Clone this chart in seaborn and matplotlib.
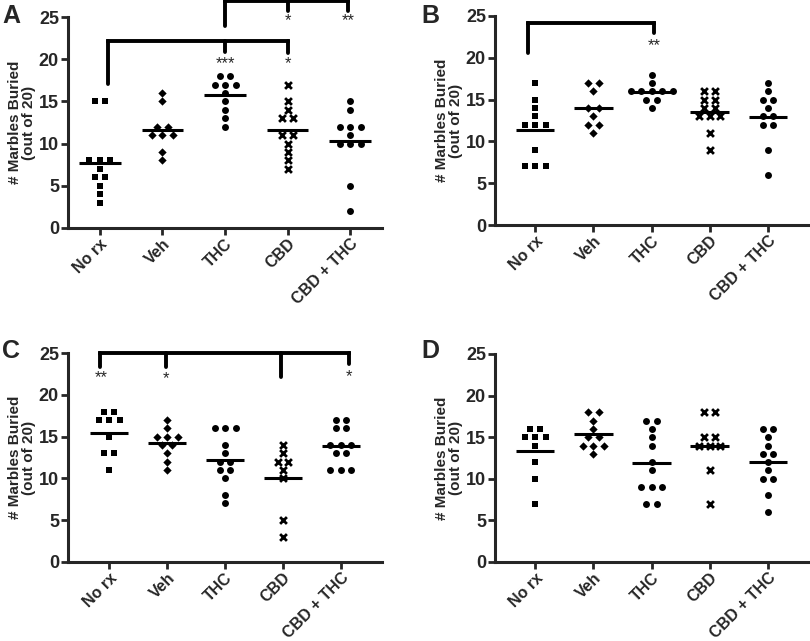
import seaborn as sns
import matplotlib.pyplot as plt
import pandas as pd
import numpy as np

# 组别
groups = ["No rx", "Veh", "THC", "CBD", "CBD + THC"]
markers = ["s", "D", "o", "x", "o"]
msizes = [21, 18, 25, 24, 25]

# 各面板数据（埋珠数，满分20）
A_norx = [15, 15, 8, 8, 8, 7, 6, 6, 5, 4, 3]
A_veh = [16, 15, 12, 12, 11, 11, 11, 9, 8]
A_thc = [18, 18, 17, 17, 17, 16, 15, 14, 13, 12]
A_cbd = [17, 15, 14, 13, 13, 11, 11, 10, 9, 8, 7]
A_combo = [15, 14, 12, 12, 12, 11, 10, 10, 10, 5, 2]

B_norx = [17, 15, 14, 13, 12, 12, 12, 9, 7, 7, 7]
B_veh = [17, 17, 16, 14, 14, 13, 12, 12, 11]
B_thc = [18, 17, 16, 16, 16, 16, 16, 15, 15, 14]
B_cbd = [16, 16, 15, 15, 14, 14, 13, 13, 13, 11, 9]
B_combo = [17, 16, 15, 15, 14, 13, 13, 12, 12, 9, 6]

C_norx = [18, 18, 17, 17, 17, 15, 13, 13, 11]
C_veh = [17, 16, 15, 15, 15, 14, 14, 13, 12, 11]
C_thc = [16, 16, 16, 14, 13, 12, 12, 11, 11, 10, 8, 7]
C_cbd = [14, 13, 12, 12, 11, 10, 5, 3]
C_combo = [17, 17, 16, 16, 14, 14, 14, 13, 13, 11, 11, 11]

D_norx = [16, 16, 15, 15, 15, 14, 12, 10, 7]
D_veh = [18, 18, 17, 16, 15, 15, 14, 14, 14, 13]
D_thc = [17, 17, 16, 15, 14, 12, 11, 9, 9, 9, 7, 7]
D_cbd = [18, 18, 15, 15, 14, 14, 14, 11, 7]
D_combo = [16, 16, 15, 14, 13, 13, 12, 11, 10, 10, 8, 6]

panels = {
    "A": [A_norx, A_veh, A_thc, A_cbd, A_combo],
    "B": [B_norx, B_veh, B_thc, B_cbd, B_combo],
    "C": [C_norx, C_veh, C_thc, C_cbd, C_combo],
    "D": [D_norx, D_veh, D_thc, D_cbd, D_combo],
}

# 显著性括号：(横线高度, [(组位置, 下端高度)], [(x, y, 星号)])
brackets = {
    "A": [
        (22.1, [(0.13, 17.1), (2, 20.9), (3, 20.7)], [(2, 19.5, "***"), (3, 19.5, "*")]),
        (26.9, [(2, 23.9), (3, 25.7), (3.97, 25.7)], [(3, 24.6, "*"), (3.97, 24.6, "**")]),
    ],
    "B": [
        (24.2, [(-0.13, 20.6), (2.05, 23.0)], [(2.05, 21.4, "**")]),
    ],
    "C": [
        (25.0, [(-0.16, 23.3), (0.98, 23.3), (2.97, 22.1), (4.14, 23.7)],
         [(-0.13, 22.0, "**"), (0.98, 21.9, "*"), (4.14, 22.2, "*")]),
    ],
    "D": [],
}

# 轴的位置（图像像素 -> 图坐标）
W, H = 810, 641
positions = {
    "A": [68 / W, 1 - 228 / H, 314 / W, 211 / H],
    "B": [495 / W, 1 - 225 / H, 313 / W, 209 / H],
    "C": [68 / W, 1 - 562 / H, 314 / W, 209 / H],
    "D": [495 / W, 1 - 562 / H, 313 / W, 208 / H],
}
xlims = {"A": (-0.51, 4.51), "B": (-0.69, 4.69), "C": (-0.71, 4.71), "D": (-0.69, 4.69)}
letter_pos = {"A": (2, 4), "B": (421, 4), "C": (2, 339), "D": (421, 339)}


def row_offsets(vals, spacing):
    # 同一数值的点左右排开
    vals = list(vals)
    out = np.zeros(len(vals))
    for v in set(vals):
        idx = [i for i, x in enumerate(vals) if x == v]
        n = len(idx)
        for j, i in enumerate(idx):
            out[i] = (j - (n - 1) / 2) * spacing
    return out


sns.set_style("ticks")
plt.rcParams["font.family"] = ["Liberation Sans", "DejaVu Sans"]
plt.rcParams["font.weight"] = "bold"

fig = plt.figure(figsize=(W / 100, H / 100), dpi=100)

for key, vals in panels.items():
    ax = fig.add_axes(positions[key])
    x0, x1 = xlims[key]
    px_per_cat = positions[key][2] * W / (x1 - x0)
    spacing = 10.5 / px_per_cat

    rows = []
    for i, (g, v) in enumerate(zip(groups, vals)):
        rows.append(pd.DataFrame({"group": g, "value": v,
                                  "xpos": i + row_offsets(v, spacing)}))
    df = pd.concat(rows, ignore_index=True)

    for g, m, s in zip(groups, markers, msizes):
        sub = df[df["group"] == g]
        if m == "x":
            sns.scatterplot(data=sub, x="xpos", y="value", ax=ax, marker=m, s=s,
                            color="black", linewidth=2, clip_on=False, zorder=4)
        else:
            sns.scatterplot(data=sub, x="xpos", y="value", ax=ax, marker=m, s=s,
                            color="black", linewidth=0, clip_on=False, zorder=4)

    # 均值线
    means = df.groupby("group", sort=False)["value"].mean()
    for i, g in enumerate(groups):
        ax.hlines(means[g], i - 0.33, i + 0.33, color="black", lw=2.2, zorder=5)

    for top, drops, stars in brackets[key]:
        xs = [d[0] for d in drops]
        ax.plot([min(xs), max(xs)], [top, top], color="black", lw=2.8,
                clip_on=False, solid_capstyle="projecting")
        for x, y in drops:
            ax.plot([x, x], [top, y], color="black", lw=2.8, clip_on=False)
        for x, y, s in stars:
            ax.text(x, y, s, ha="center", va="center", fontsize=12,
                    fontweight="normal", clip_on=False)

    ax.set_ylim(0, 25)
    ax.set_xlim(x0, x1)
    ax.set_yticks([0, 5, 10, 15, 20, 25])
    ax.set_xlabel("")
    ax.set_ylabel("# Marbles Buried\n(out of 20)", fontsize=11, fontweight="bold",
                  labelpad=2, linespacing=1.0)
    ax.tick_params(axis="y", width=2, length=5, labelsize=13, pad=1.5)
    ax.tick_params(axis="x", width=2, length=5, pad=1)
    for lab in ax.get_yticklabels():
        lab.set_fontweight("bold")
    ax.set_xticks(range(len(groups)))
    ax.set_xticklabels(groups, rotation=45, ha="right", rotation_mode="anchor",
                       fontsize=11.5, fontweight="bold")
    sns.despine(ax=ax)
    for sp in ["left", "bottom"]:
        ax.spines[sp].set_linewidth(2.2)
    fig.text(letter_pos[key][0] / W, 1 - letter_pos[key][1] / H, key,
             fontsize=18, fontweight="bold", va="top", ha="left")

fig.savefig("out.png", dpi=100)
